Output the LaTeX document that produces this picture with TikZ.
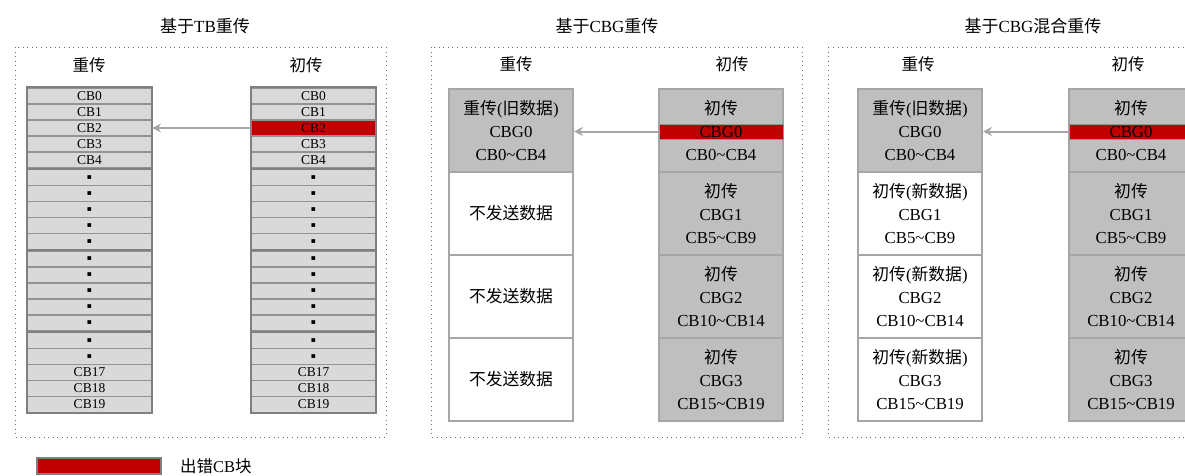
\documentclass[tikz,border=0pt]{standalone}
\usepackage{fontspec}
\setmainfont{Liberation Serif}
\newfontfamily\cjkfont{Noto Sans CJK SC}
\newfontfamily\symfont{DejaVu Sans}
\newcommand\zh[1]{{\cjkfont #1}}
\newcommand\tld{\textasciitilde}
\newcommand\dt{{\symfont\fontsize{7.5}{9}\selectfont ▪}}
\usetikzlibrary{arrows.meta}
\definecolor{errred}{HTML}{C00000}
\definecolor{cbfill}{HTML}{D9D9D9}
\definecolor{cbgfill}{HTML}{BFBFBF}
\definecolor{cellline}{HTML}{A6A6A6}
\definecolor{groupline}{HTML}{808080}
\definecolor{arrowgray}{HTML}{A6A6A6}
\definecolor{dotline}{HTML}{6E6E6E}
\begin{document}
\begin{tikzpicture}[x=1pt,y=-1pt,
  panel/.style={draw=dotline, line width=1pt, dash pattern=on 1pt off 3.6pt},
  title/.style={font=\fontsize{17}{19}\selectfont, inner sep=0pt},
  colhead/.style={font=\fontsize{16.5}{18}\selectfont, inner sep=0pt},
  cbcell/.style={draw=groupline!85, fill=cbfill, line width=1.2pt, minimum width=124pt, minimum height=16pt, inner sep=0pt, font=\fontsize{13.5}{14}\selectfont},
  cbgroup/.style={draw=groupline, line width=2pt},
  cbgcell/.style={draw=cellline, line width=2pt, minimum width=124pt, minimum height=83pt, inner sep=0pt, align=center, font=\fontsize{16.8}{23}\selectfont},
  grayc/.style={cbgcell, fill=cbgfill},
  whitec/.style={cbgcell, fill=white},
  errbar/.style={draw=groupline!85, fill=errred, line width=1pt, minimum width=124pt, minimum height=15pt, inner sep=0pt, font=\fontsize{16.8}{17}\selectfont},
  link/.style={draw=arrowgray, line width=2pt, -{Stealth[length=9pt,width=9pt,inset=3pt]}},
  legendtext/.style={font=\fontsize{16.5}{18}\selectfont, inner sep=0pt, anchor=west}
]
\useasboundingbox (0,0) rectangle (1185,475);
\clip (0,0) rectangle (1185,475);

% ---------- titles ----------
\node[title] (t1) at (205,26) {\zh{基于}TB\zh{重传}};
\node[title] (t2) at (607,26) {\zh{基于}CBG\zh{重传}};
\node[title] (t3) at (1033,26) {\zh{基于}CBG\zh{混合重传}};

% ---------- dotted panels ----------
\draw[panel] (15,47) rectangle (386,437);
\draw[panel] (431,47) rectangle (802,437);
\draw[panel] (828,47) rectangle (1200,437);

% ---------- column headers ----------
\node[colhead] (h1l) at (89,65) {\zh{重传}};
\node[colhead] (h1r) at (306,65) {\zh{初传}};
\node[colhead] (h2l) at (516,64) {\zh{重传}};
\node[colhead] (h2r) at (732,64) {\zh{初传}};
\node[colhead] (h3l) at (918,64) {\zh{重传}};
\node[colhead] (h3r) at (1128,64) {\zh{初传}};

% ---------- panel 1: TB retransmission ----------
\foreach \g/\r/\t in {0/0/CB0,0/1/CB1,0/2/CB2,0/3/CB3,0/4/CB4,
  1/0/\dt,1/1/\dt,1/2/\dt,1/3/\dt,1/4/\dt,
  2/0/\dt,2/1/\dt,2/2/\dt,2/3/\dt,2/4/\dt,
  3/0/\dt,3/1/\dt,3/2/CB17,3/3/CB18,3/4/CB19}{
  \node[cbcell] (p1l-\g-\r) at (89.5,{96+81.5*\g+16*\r}) {\t};
  \node[cbcell] (p1r-\g-\r) at (313.5,{96+81.5*\g+16*\r}) {\t};
}
\node[cbcell, fill=errred] (p1err) at (313.5,128) {CB2};
\foreach \g in {0,...,3}{
  \draw[cbgroup] (p1l-\g-0.north west) rectangle (p1l-\g-4.south east);
  \draw[cbgroup] (p1r-\g-0.north west) rectangle (p1r-\g-4.south east);
}
\draw[link] (p1err.west) -- (p1l-0-2.east);

% ---------- panel 2: CBG retransmission ----------
\node[grayc] (p2l-0) at (511,130.5) {\zh{重传}(\zh{旧数据})\\CBG0\\CB0\tld CB4};
\node[whitec] (p2l-1) at (511,213.5) {\zh{不发送数据}};
\node[whitec] (p2l-2) at (511,296.5) {\zh{不发送数据}};
\node[whitec] (p2l-3) at (511,379.5) {\zh{不发送数据}};

\node[grayc] (p2r-0) at (721,130.5) {\zh{初传}\\\phantom{CBG0}\\CB0\tld CB4};
\node[grayc] (p2r-1) at (721,213.5) {\zh{初传}\\CBG1\\CB5\tld CB9};
\node[grayc] (p2r-2) at (721,296.5) {\zh{初传}\\CBG2\\CB10\tld CB14};
\node[grayc] (p2r-3) at (721,379.5) {\zh{初传}\\CBG3\\CB15\tld CB19};
\node[errbar] (p2err) at (721,131.5) {CBG0};
\draw[link] (p2err.west) -- (p2l-0.east |- p2err.west);

% ---------- panel 3: CBG mixed retransmission ----------
\node[grayc] (p3l-0) at (920,130.5) {\zh{重传}(\zh{旧数据})\\CBG0\\CB0\tld CB4};
\node[whitec] (p3l-1) at (920,213.5) {\zh{初传}(\zh{新数据})\\CBG1\\CB5\tld CB9};
\node[whitec] (p3l-2) at (920,296.5) {\zh{初传}(\zh{新数据})\\CBG2\\CB10\tld CB14};
\node[whitec] (p3l-3) at (920,379.5) {\zh{初传}(\zh{新数据})\\CBG3\\CB15\tld CB19};

\node[grayc] (p3r-0) at (1131,130.5) {\zh{初传}\\\phantom{CBG0}\\CB0\tld CB4};
\node[grayc] (p3r-1) at (1131,213.5) {\zh{初传}\\CBG1\\CB5\tld CB9};
\node[grayc] (p3r-2) at (1131,296.5) {\zh{初传}\\CBG2\\CB10\tld CB14};
\node[grayc] (p3r-3) at (1131,379.5) {\zh{初传}\\CBG3\\CB15\tld CB19};
\node[errbar] (p3err) at (1131,131.5) {CBG0};
\draw[link] (p3err.west) -- (p3l-0.east |- p3err.west);

% ---------- legend ----------
\node[cbcell, fill=errred, draw=groupline, line width=1.5pt] (legbox) at (99,466) {};
\node[legendtext] (legtext) at (180,466) {\zh{出错}CB\zh{块}};
\end{tikzpicture}
\end{document}
